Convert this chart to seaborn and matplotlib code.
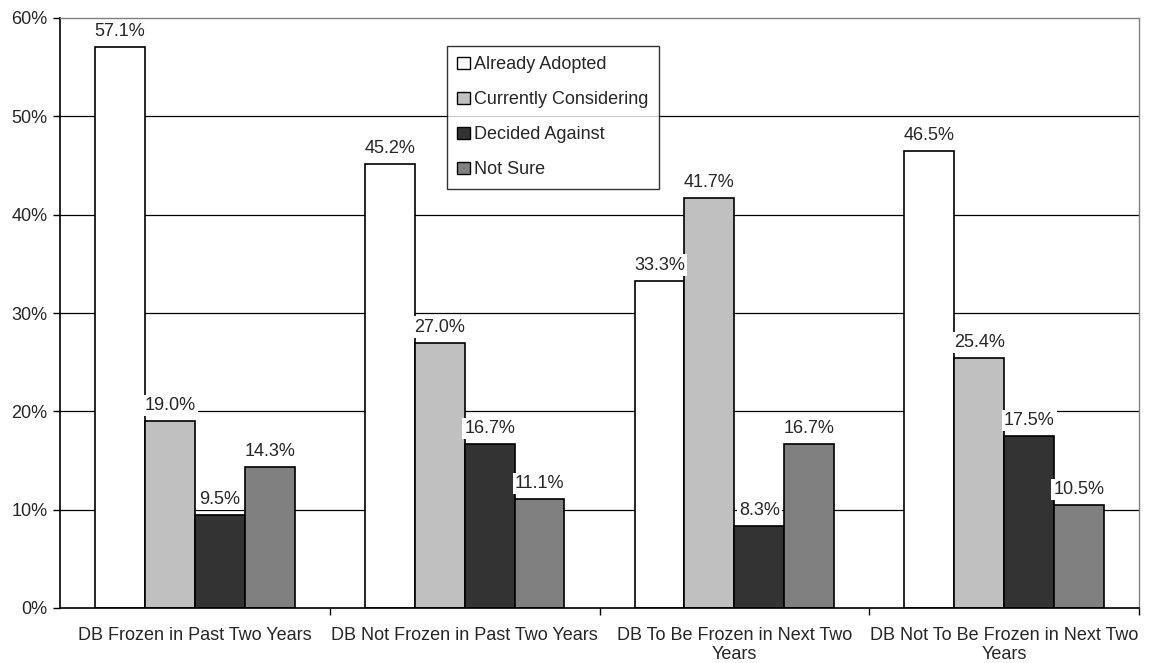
import matplotlib
matplotlib.use("Agg")
import matplotlib.pyplot as plt
import seaborn as sns
import pandas as pd
import numpy as np
from matplotlib.patches import Patch

categories = ["DB Frozen in Past Two Years", "DB Not Frozen in Past Two Years",
              "DB To Be Frozen in Next Two\nYears", "DB Not To Be Frozen in Next Two\nYears"]
series = ["Already Adopted", "Currently Considering", "Decided Against", "Not Sure"]
already_adopted = [57.1, 45.2, 33.3, 46.5]
currently_considering = [19.0, 27.0, 41.7, 25.4]
decided_against = [9.5, 16.7, 8.3, 17.5]
not_sure = [14.3, 11.1, 16.7, 10.5]
colors = ["#FFFFFF", "#C0C0C0", "#333333", "#808080"]

rows = []
for s, vals in zip(series, [already_adopted, currently_considering, decided_against, not_sure]):
    for c, v in zip(categories, vals):
        rows.append({"cat": c, "series": s, "value": v})
df = pd.DataFrame(rows)

sns.set_style("white")
plt.rcParams['font.family'] = ['Liberation Sans', 'DejaVu Sans']

FS = 13
fig = plt.figure(figsize=(11.57, 6.63), dpi=100)
ax = fig.add_axes([60/1157, 1 - 608/663, 1079/1157, 590/663])

sns.barplot(data=df, x="cat", y="value", hue="series", order=categories, hue_order=series,
            palette=colors, width=0.74, gap=0, edgecolor="black", linewidth=1.2,
            saturation=1, ax=ax, legend=False, errorbar=None)

ax.set_ylim(0, 60)
ax.set_xlim(-0.5, 3.5)
ax.set_yticks(np.arange(0, 61, 10))
ax.set_yticklabels([f"{v}%" for v in range(0, 61, 10)], fontsize=FS)
for y in range(10, 60, 10):
    ax.axhline(y, color="black", linewidth=0.9, zorder=0)

ax.set_xticks([0.5, 1.5, 2.5, 3.5])
ax.set_xticklabels([])
ax.set_xticks([0, 1, 2, 3], minor=True)
ax.set_xticklabels(categories, minor=True, fontsize=FS, linespacing=1.1)
ax.tick_params(axis="x", which="minor", length=0, pad=14)
ax.tick_params(axis="x", which="major", direction="out", length=5, width=1, color="black", bottom=True)
ax.tick_params(axis="y", direction="out", length=5, width=1, color="black", left=True, pad=4)
ax.set_xlabel("")
ax.set_ylabel("")

for side in ["top", "right"]:
    ax.spines[side].set_color("#808080")
    ax.spines[side].set_linewidth(1)
for side in ["left", "bottom"]:
    ax.spines[side].set_color("black")
    ax.spines[side].set_linewidth(1.2)

for cont in ax.containers:
    labs = ax.bar_label(cont, fmt="%.1f%%", padding=5, fontsize=FS)
    for t in labs:
        t.set_bbox(dict(facecolor="white", edgecolor="none", pad=1.5))

handles = [Patch(facecolor=c, edgecolor="black", linewidth=1) for c in colors]
leg = ax.legend(handles, series, loc="upper left", bbox_to_anchor=(0.3585, 0.953),
                frameon=True, fancybox=False, edgecolor="black", fontsize=FS,
                handlelength=0.7, handleheight=0.7, handletextpad=0.25,
                labelspacing=1.0, borderpad=0.58, borderaxespad=0)
leg.get_frame().set_linewidth(1)

fig.savefig("out.png", dpi=100)
